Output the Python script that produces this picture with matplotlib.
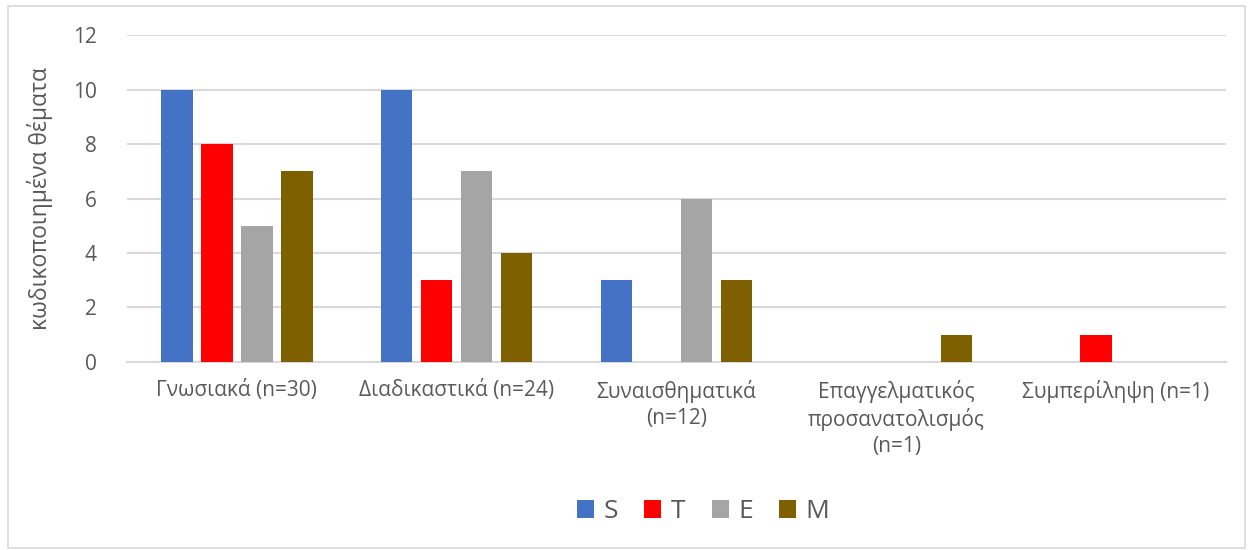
import numpy as np
import matplotlib.pyplot as plt
from matplotlib.patches import Rectangle

categories = ["Γνωσιακά (n=30)", "Διαδικαστικά (n=24)", "Συναισθηματικά\n(n=12)",
              "Επαγγελματικός\nπροσανατολισμός\n(n=1)", "Συμπερίληψη (n=1)"]
series = ["S", "T", "E", "M"]
s_vals = [10, 10, 3, 0, 0]
t_vals = [8, 3, 0, 0, 1]
e_vals = [5, 7, 6, 0, 0]
m_vals = [7, 4, 3, 1, 0]
colors = ["#4472C4", "#FF0000", "#A5A5A5", "#7F6000"]

text_color = "#595959"
plt.rcParams['font.family'] = ['Open Sans', 'DejaVu Sans']


def main():
    fig = plt.figure(figsize=(12.5, 5.5), dpi=100)
    ax = fig.add_axes([0.1016, 0.342, 0.8792, 0.594])

    # light border round the whole chart area
    fig.patches.append(Rectangle((0.006, 0.004), 0.99, 0.985, transform=fig.transFigure,
                                 fill=False, edgecolor="#D9D9D9", linewidth=1.2))

    x = np.arange(len(categories))
    step = 0.182
    width = 0.142
    for i, (name, vals) in enumerate(zip(series, [s_vals, t_vals, e_vals, m_vals])):
        ax.bar(x + (i - 1.5) * step, vals, width, color=colors[i], label=name, zorder=3)

    ax.set_xlim(-0.5, len(categories) - 0.5)
    ax.set_ylim(0, 12)
    ax.set_yticks(range(0, 13, 2))
    ax.yaxis.grid(True, color="#D9D9D9", linewidth=1.5, zorder=0)
    for side in ["top", "right", "left"]:
        ax.spines[side].set_visible(False)
    ax.spines["bottom"].set_color("#D9D9D9")
    ax.spines["bottom"].set_linewidth(1.5)
    ax.tick_params(length=0, colors=text_color, labelsize=15)
    ax.tick_params(axis="x", pad=13)
    ax.tick_params(axis="y", pad=22)
    ax.set_xticks(x)
    ax.set_xticklabels(categories, va="top", ha="center", linespacing=1.3)

    ax.set_ylabel("κωδικοποιημένα θέματα", fontsize=16.5, color=text_color, labelpad=14)

    ax.legend(loc="center", bbox_to_anchor=(0.5625, 0.07), bbox_transform=fig.transFigure,
              ncol=4, frameon=False, fontsize=19, labelcolor=text_color,
              handlelength=0.65, handleheight=0.65, handletextpad=0.35, columnspacing=1.0)

    fig.savefig("out.png", dpi=100)
    plt.close()


if __name__ == "__main__":
    main()
